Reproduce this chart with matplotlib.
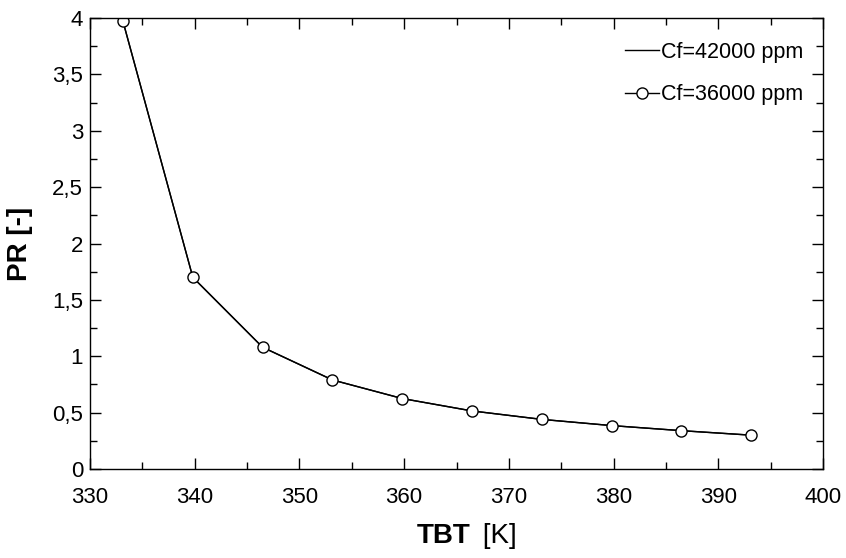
import numpy as np
import matplotlib.pyplot as plt
from matplotlib.ticker import MultipleLocator, FuncFormatter

plt.rcParams['font.family'] = ['Liberation Sans', 'DejaVu Sans']

# datos
tbt = [333.15, 339.82, 346.48, 353.15, 359.82, 366.48, 373.15, 379.82, 386.48, 393.15]
pr_42000 = [3.97, 1.70, 1.08, 0.79, 0.625, 0.515, 0.44, 0.385, 0.34, 0.30]
pr_36000 = [3.97, 1.70, 1.08, 0.79, 0.625, 0.515, 0.44, 0.385, 0.34, 0.30]
labels = ['Cf=42000 ppm', 'Cf=36000 ppm']

fig = plt.figure(figsize=(8.46, 5.58), dpi=100)
ax = fig.add_axes([90/846, 1 - 469/558, 733/846, 451/558])

ax.plot(tbt, pr_42000, color='black', lw=1.0, label=labels[0])
ax.plot(tbt, pr_36000, color='black', lw=1.0, marker='o', ms=8,
        mfc='white', mec='black', mew=1.0, label=labels[1])

ax.set_xlim(330, 400)
ax.set_ylim(0, 4)
ax.xaxis.set_major_locator(MultipleLocator(10))
ax.xaxis.set_minor_locator(MultipleLocator(5))
ax.yaxis.set_major_locator(MultipleLocator(0.5))
ax.yaxis.set_minor_locator(MultipleLocator(0.25))
ax.yaxis.set_major_formatter(FuncFormatter(lambda v, p: ('%g' % v).replace('.', ',')))
ax.tick_params(which='both', direction='in', top=True, right=True, labelsize=16, width=1)
ax.tick_params(which='major', length=8)
ax.tick_params(which='minor', length=5)
ax.tick_params(axis='x', which='major', pad=13)
ax.tick_params(axis='y', which='major', pad=5)
for s in ax.spines.values():
    s.set_linewidth(1.0)

ax.set_ylabel('PR [-]', fontsize=20, fontweight='bold', labelpad=14)
ax.text(0.519, -0.12, 'TBT', transform=ax.transAxes, fontsize=20, fontweight='bold',
        ha='right', va='top')
ax.text(0.525, -0.12, ' [K]', transform=ax.transAxes, fontsize=20,
        ha='left', va='top')

ax.legend(loc='upper right', frameon=False, fontsize=15.5, handlelength=1.6,
          handletextpad=0.1, borderaxespad=0.5, labelspacing=1.0,
          bbox_to_anchor=(1.0, 0.99))

fig.savefig('out.png', dpi=100)
